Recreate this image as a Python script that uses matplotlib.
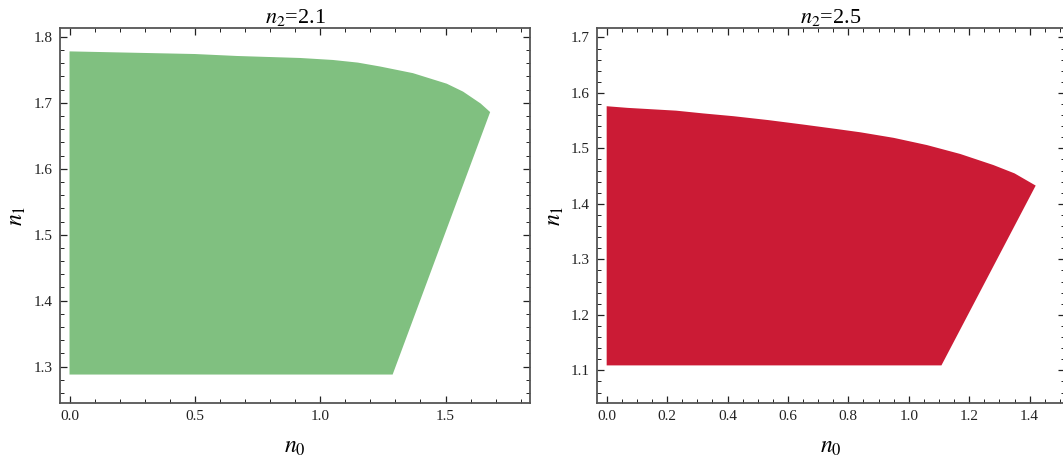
import matplotlib
matplotlib.use('Agg')
import matplotlib.pyplot as plt
from matplotlib.ticker import MultipleLocator

# === DATI ===
# pannello sinistro, n2 = 2.1
left_top_n0 = [0.0, 0.25, 0.5, 0.67, 0.92, 1.05, 1.15, 1.24, 1.37, 1.505, 1.57, 1.64, 1.678]
left_top_n1 = [1.778, 1.776, 1.774, 1.771, 1.768, 1.765, 1.761, 1.755, 1.745, 1.729, 1.717, 1.699, 1.686]
left_bottom_n1 = 1.288
left_corner_n0 = 1.289

# pannello destro, n2 = 2.5
right_top_n0 = [0.0, 0.07, 0.23, 0.32, 0.42, 0.535, 0.65, 0.76, 0.84, 0.95, 1.06, 1.17, 1.28, 1.35, 1.42]
right_top_n1 = [1.576, 1.573, 1.568, 1.563, 1.558, 1.551, 1.543, 1.535, 1.529, 1.519, 1.506, 1.490, 1.470, 1.455, 1.433]
right_bottom_n1 = 1.109
right_corner_n0 = 1.108

titles = ['$n_2$=2.1', '$n_2$=2.5']

# === STILE ===
plt.rcParams['font.family'] = 'Liberation Serif'
plt.rcParams['mathtext.fontset'] = 'stix'

fig = plt.figure(figsize=(10.63, 4.65), dpi=100)
W, H = 1063, 465
ax1 = fig.add_axes([60 / W, 1 - 403.3 / H, 470 / W, 375 / H])
ax2 = fig.add_axes([597 / W, 1 - 403.3 / H, 468 / W, 375 / H])


def regione(top_n0, top_n1, bottom_n1, corner_n0):
    xs = [top_n0[0]] + list(top_n0) + [corner_n0]
    ys = [bottom_n1] + list(top_n1) + [bottom_n1]
    return xs, ys


def stile(ax, xmaj, xmin, ymaj, ymin):
    for s in ax.spines.values():
        s.set_color('#555555')
        s.set_linewidth(1.3)
    ax.xaxis.set_major_locator(MultipleLocator(xmaj))
    ax.xaxis.set_minor_locator(MultipleLocator(xmin))
    ax.yaxis.set_major_locator(MultipleLocator(ymaj))
    ax.yaxis.set_minor_locator(MultipleLocator(ymin))
    ax.tick_params(which='both', direction='in', top=True, right=True,
                   color='#222222', labelsize=11, labelcolor='#222222')
    ax.tick_params(which='major', length=5, width=0.9, pad=5)
    ax.tick_params(which='minor', length=2.8, width=0.7)
    ax.set_xlabel('$n_0$', fontsize=17, labelpad=10)
    ax.set_ylabel('$n_1$', fontsize=17, labelpad=4)


# sinistra
xs, ys = regione(left_top_n0, left_top_n1, left_bottom_n1, left_corner_n0)
ax1.fill(xs, ys, color='#80c080', lw=0)
ax1.set_xlim(-0.038, 1.837)
ax1.set_ylim(1.2444, 1.813)
stile(ax1, 0.5, 0.1, 0.1, 0.02)
ax1.xaxis.set_major_formatter(lambda v, p: f'{v:.1f}')
ax1.set_title(titles[0], fontsize=16, pad=2)

# destra
xs, ys = regione(right_top_n0, right_top_n1, right_bottom_n1, right_corner_n0)
ax2.fill(xs, ys, color='#cb1b35', lw=0)
ax2.set_xlim(-0.032, 1.517)
ax2.set_ylim(1.0407, 1.7164)
stile(ax2, 0.2, 0.05, 0.1, 0.02)
ax2.xaxis.set_major_formatter(lambda v, p: f'{v:.1f}')
ax2.set_title(titles[1], fontsize=16, pad=2)

fig.savefig('out.png', dpi=100)
plt.close(fig)
